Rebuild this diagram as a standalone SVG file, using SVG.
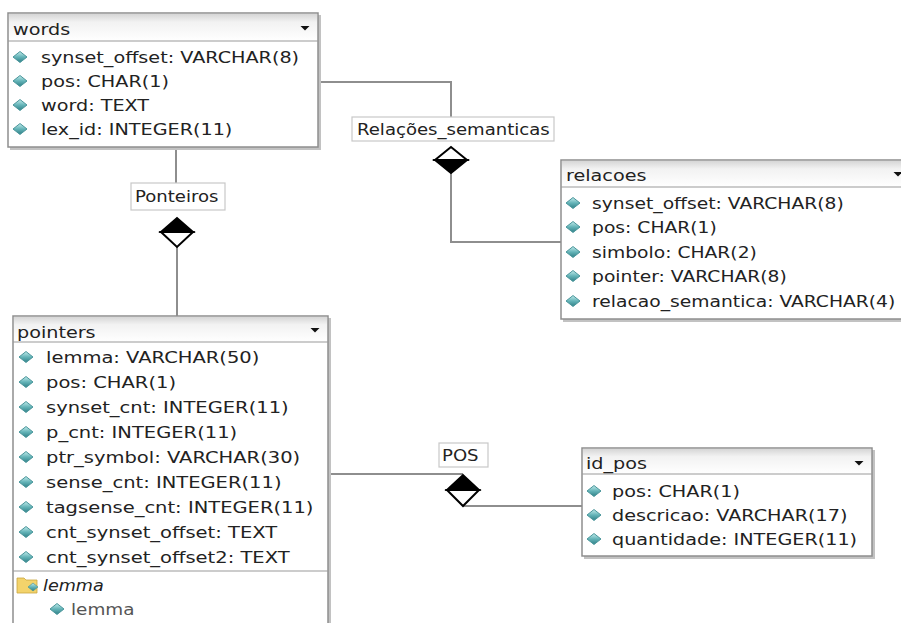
<svg xmlns="http://www.w3.org/2000/svg" width="901" height="623" viewBox="0 0 901 623">
<style>
.t{font-family:"DejaVu Sans",Verdana,sans-serif;font-size:16px;fill:#222}
.it{font-style:italic}
.box{fill:#fff;stroke:#8e8e8e;stroke-width:1.5}
.sh{fill:#c2c2c2}
.hdr{fill:url(#hg);stroke:none}
.sep{stroke:#9a9a9a;stroke-width:1.2}
.lbl{fill:#fff;stroke:#c8c8c8;stroke-width:1.2}
.conn{fill:none;stroke:#8e8e8e;stroke-width:2}
.dw{fill:#fff;stroke:#000;stroke-width:2;stroke-linejoin:miter}
.db{fill:#000;stroke:#000;stroke-width:2}
</style>
<defs>
<linearGradient id="hg" x1="0" y1="0" x2="0" y2="1">
<stop offset="0" stop-color="#d6d6d6"/>
<stop offset="0.3" stop-color="#f2f2f2"/>
<stop offset="1" stop-color="#ffffff"/>
</linearGradient>
<linearGradient id="ig" x1="0" y1="0" x2="0" y2="1">
<stop offset="0" stop-color="#c4ecec"/>
<stop offset="0.5" stop-color="#64b4b8"/>
<stop offset="1" stop-color="#2f7f86"/>
</linearGradient>
<g id="ic"><path d="M0,-5.5 L7,0 L0,5.5 L-7,0 Z" fill="url(#ig)" stroke="#4a969b" stroke-width="1" stroke-linejoin="round"/></g>
<path id="dd" d="M-4.5,-2 L4.5,-2 L0,2.5 Z" fill="#111"/>
</defs>

<g id="connectors">
<polyline class="conn" points="318,82 451,82 451,117"/>
<polyline class="conn" points="451,173 451,242 561,242"/>
<line class="conn" x1="176" y1="147" x2="176" y2="183"/>
<line class="conn" x1="177" y1="247" x2="177" y2="316"/>
<line class="conn" x1="328" y1="474" x2="463" y2="474"/>
<line class="conn" x1="463" y1="506" x2="582" y2="506"/>
</g>

<g id="rel-relacoes-semanticas">
<rect class="lbl" x="352" y="117" width="202" height="24"/>
<text class="t" transform="translate(357 135) scale(1.13 1)">Relações_semanticas</text>
<path class="dw" d="M435,160 L451,147 L467,160 Z"/>
<path class="db" d="M435,160 L451,173 L467,160 Z"/>
</g>

<g id="rel-ponteiros">
<rect class="lbl" x="131" y="183" width="94" height="27"/>
<text class="t" transform="translate(135 202) scale(1.13 1)">Ponteiros</text>
<path class="db" d="M161,232 L177,218 L193,232 Z"/>
<path class="dw" d="M161,232 L177,247 L193,232 Z"/>
</g>

<g id="rel-pos">
<rect class="lbl" x="439" y="443" width="49" height="24"/>
<text class="t" transform="translate(442 461) scale(1.13 1)">POS</text>
<path class="db" d="M447,490 L463,475 L479,490 Z"/>
<path class="dw" d="M447,490 L463,506 L479,490 Z"/>
</g>

<g id="words">
<rect class="sh" x="10" y="15" width="311" height="135"/>
<rect class="box" x="8" y="13" width="310" height="134"/>
<rect class="hdr" x="9" y="14" width="308" height="27"/>
<line class="sep" x1="8" y1="41" x2="318" y2="41"/>
<text class="t" transform="translate(13 35) scale(1.2 1)">words</text>
<use href="#dd" x="305" y="28"/>
<use href="#ic" x="20" y="57"/>
<text class="t" transform="translate(41 63) scale(1.2 1)">synset_offset: VARCHAR(8)</text>
<use href="#ic" x="20" y="81"/>
<text class="t" transform="translate(41 87) scale(1.2 1)">pos: CHAR(1)</text>
<use href="#ic" x="20" y="105"/>
<text class="t" transform="translate(41 111) scale(1.2 1)">word: TEXT</text>
<use href="#ic" x="20" y="129"/>
<text class="t" transform="translate(41 135) scale(1.2 1)">lex_id: INTEGER(11)</text>
</g>

<g id="relacoes">
<rect class="sh" x="563" y="162" width="340" height="160"/>
<rect class="box" x="561" y="160" width="345" height="159"/>
<rect class="hdr" x="562" y="161" width="345" height="26"/>
<line class="sep" x1="561" y1="187" x2="901" y2="187"/>
<text class="t" transform="translate(566 181) scale(1.2 1)">relacoes</text>
<use href="#dd" x="898" y="174"/>
<use href="#ic" x="573" y="203"/>
<text class="t" transform="translate(592 209) scale(1.17 1)">synset_offset: VARCHAR(8)</text>
<use href="#ic" x="573" y="227"/>
<text class="t" transform="translate(592 233) scale(1.17 1)">pos: CHAR(1)</text>
<use href="#ic" x="573" y="252"/>
<text class="t" transform="translate(592 258) scale(1.17 1)">simbolo: CHAR(2)</text>
<use href="#ic" x="573" y="276"/>
<text class="t" transform="translate(592 282) scale(1.17 1)">pointer: VARCHAR(8)</text>
<use href="#ic" x="573" y="301"/>
<text class="t" transform="translate(592 307) scale(1.17 1)">relacao_semantica: VARCHAR(4)</text>
</g>

<g id="pointers">
<rect class="sh" x="15" y="318" width="316" height="310"/>
<rect class="box" x="13" y="316" width="315" height="310"/>
<rect class="hdr" x="14" y="317" width="313" height="25"/>
<line class="sep" x1="13" y1="342" x2="328" y2="342"/>
<text class="t" transform="translate(17 338) scale(1.2 1)">pointers</text>
<use href="#dd" x="315" y="330"/>
<use href="#ic" x="26" y="357"/>
<text class="t" transform="translate(46 363) scale(1.22 1)">lemma: VARCHAR(50)</text>
<use href="#ic" x="26" y="382"/>
<text class="t" transform="translate(46 388) scale(1.22 1)">pos: CHAR(1)</text>
<use href="#ic" x="26" y="407"/>
<text class="t" transform="translate(46 413) scale(1.22 1)">synset_cnt: INTEGER(11)</text>
<use href="#ic" x="26" y="432"/>
<text class="t" transform="translate(46 438) scale(1.22 1)">p_cnt: INTEGER(11)</text>
<use href="#ic" x="26" y="457"/>
<text class="t" transform="translate(46 463) scale(1.22 1)">ptr_symbol: VARCHAR(30)</text>
<use href="#ic" x="26" y="482"/>
<text class="t" transform="translate(46 488) scale(1.22 1)">sense_cnt: INTEGER(11)</text>
<use href="#ic" x="26" y="507"/>
<text class="t" transform="translate(46 513) scale(1.22 1)">tagsense_cnt: INTEGER(11)</text>
<use href="#ic" x="26" y="532"/>
<text class="t" transform="translate(46 538) scale(1.22 1)">cnt_synset_offset: TEXT</text>
<use href="#ic" x="26" y="557"/>
<text class="t" transform="translate(46 563) scale(1.22 1)">cnt_synset_offset2: TEXT</text>
<line class="sep" x1="13" y1="571" x2="328" y2="571"/>
<path d="M17,578 L24,578 L26,580 L37,580 L37,593 L17,593 Z" fill="#f3d36b" stroke="#c9a640" stroke-width="0.8"/>
<path d="M28,587 L33,583 L38,587 L33,591 Z" fill="url(#ig)" stroke="#3e8d93" stroke-width="0.6"/>
<text class="t it" transform="translate(43 591) scale(1.1 1)">lemma</text>
<use href="#ic" x="57" y="609"/>
<text class="t" transform="translate(71 615) scale(1.15 1)" style="fill:#555">lemma</text>
</g>

<g id="id_pos">
<rect class="sh" x="584" y="450" width="291" height="109"/>
<rect class="box" x="582" y="448" width="290" height="108"/>
<rect class="hdr" x="583" y="449" width="288" height="25"/>
<line class="sep" x1="582" y1="474" x2="872" y2="474"/>
<text class="t" transform="translate(586 469) scale(1.2 1)">id_pos</text>
<use href="#dd" x="859" y="463"/>
<use href="#ic" x="594" y="491"/>
<text class="t" transform="translate(612 497) scale(1.2 1)">pos: CHAR(1)</text>
<use href="#ic" x="594" y="515"/>
<text class="t" transform="translate(612 521) scale(1.2 1)">descricao: VARCHAR(17)</text>
<use href="#ic" x="594" y="539"/>
<text class="t" transform="translate(612 545) scale(1.2 1)">quantidade: INTEGER(11)</text>
</g>
</svg>
